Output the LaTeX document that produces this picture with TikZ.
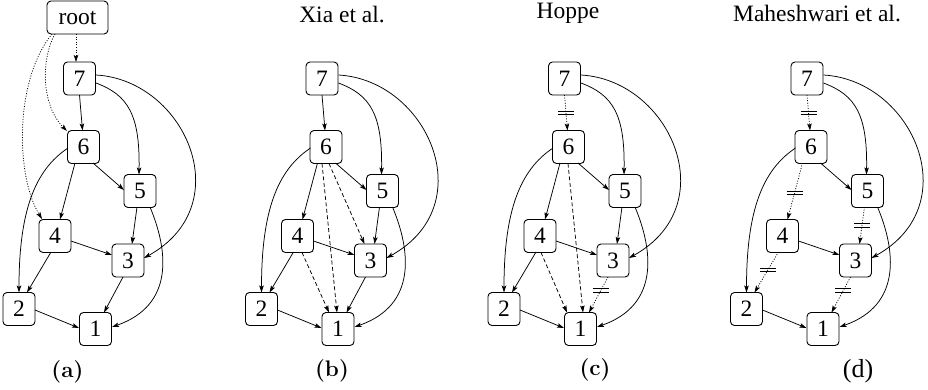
\documentclass[tikz,border=0pt]{standalone}
\usepackage{fontspec}
\setmainfont{Liberation Serif}
\newfontfamily\lmfont{Latin Modern Roman}
\usetikzlibrary{arrows.meta}
\newcommand\eqmk{\vbox{\hrule width 16pt height 0.8pt\vskip 2.8pt\hrule width 16pt height 0.8pt}}
\newcommand\mknodes[1]{%
  \node[nd] (#17) at (79.5,78.5) {7};
  \node[nd] (#16) at (83.5,147) {6};
  \node[nd] (#15) at (140,191) {5};
  \node[nd] (#14) at (55,236) {4};
  \node[nd] (#13) at (128,260.5) {3};
  \node[nd] (#12) at (19,309) {2};
  \node[nd] (#11) at (95.5,329) {1};
}
\newcommand\mkcommon[1]{%
  \draw[ed] ([shift={(16.5,-3.5)}]#17.center) .. controls +(89,5) and +(96,-53) .. ([shift={(16,-2.5)}]#13.center);
  \draw[ed] ([shift={(16.5,4.5)}]#17.center) .. controls +(32,12) and +(1,-60) .. ([shift={(-1,-16.5)}]#15.center);
  \draw[ed] ([shift={(9.5,16)}]#16.center) -- ([shift={(-16,-1)}]#15.center);
  \draw[ed] ([shift={(-15.5,1)}]#16.center) .. controls +(-33,22) and +(0,-82) .. ([shift={(0,-16.5)}]#12.center);
  \draw[ed] ([shift={(10,16)}]#15.center) .. controls +(18,43) and +(63,-22) .. ([shift={(16.5,-2)}]#11.center);
  \draw[ed] ([shift={(16,5)}]#14.center) -- ([shift={(-16,-5.5)}]#13.center);
  \draw[ed] ([shift={(16,1)}]#12.center) -- ([shift={(-16.5,-1)}]#11.center);
}
\begin{document}
\begin{tikzpicture}[x=1pt,y=-1pt,
  nd/.style={draw, rounded corners=4pt, line width=0.9pt, minimum width=32pt, minimum height=33pt, inner sep=0pt, font=\fontsize{23.5}{28}\selectfont},
  ed/.style={line width=0.75pt, -{Stealth[length=7pt,width=4.5pt,inset=1.5pt]}},
  dt/.style={ed, dash pattern=on 1pt off 1.6pt},
  ds/.style={ed, dash pattern=on 4pt off 2.5pt},
  ttl/.style={anchor=base, inner sep=0pt, font=\fontsize{23.5}{28}\selectfont},
  lab/.style={anchor=base, inner sep=0pt, font=\lmfont\bfseries\fontsize{22.5}{27}\selectfont}]
\useasboundingbox (0,0) rectangle (928,389);

% ---------- (a)
\node[nd, minimum width=61pt] (root) at (77.5,17.5) {root};
\mknodes{a}
\mkcommon{a}
\draw[dt] ([shift={(-1.5,16.5)}]root.center) -- ([shift={(-3.5,-16.5)}]a7.center);
\draw[dt] ([shift={(-22.5,16.5)}]root.center) .. controls +(-14,25) and +(-26,-26) .. ([shift={(-16.5,-16)}]a6.center);
\draw[dt] ([shift={(-25.5,16.5)}]root.center) .. controls +(-37,45) and +(-27,-44) .. ([shift={(-13,-17)}]a4.center);
\draw[ed] ([shift={(0,16.5)}]a7.center) -- ([shift={(-1,-16.5)}]a6.center);
\draw[ed] ([shift={(-8.5,16)}]a6.center) -- ([shift={(5,-16.5)}]a4.center);
\draw[ed] ([shift={(-3,16)}]a5.center) -- ([shift={(4,-16.5)}]a3.center);
\draw[ed] ([shift={(-4,16)}]a4.center) -- ([shift={(8,-16.5)}]a2.center);
\draw[ed] ([shift={(-5,16.5)}]a3.center) -- ([shift={(8.5,-16.5)}]a1.center);
\node[lab] (la) at (67.5,377.5) {(a)};

% ---------- (b)
\begin{scope}[xshift=242.5pt]
\mknodes{b}
\mkcommon{b}
\draw[ed] ([shift={(0,16.5)}]b7.center) -- ([shift={(-1,-16.5)}]b6.center);
\draw[ed] ([shift={(-8.5,16)}]b6.center) -- ([shift={(5,-16.5)}]b4.center);
\draw[ed] ([shift={(-3,16)}]b5.center) -- ([shift={(4,-16.5)}]b3.center);
\draw[ed] ([shift={(-4,16)}]b4.center) -- ([shift={(8,-16.5)}]b2.center);
\draw[ed] ([shift={(-5,16.5)}]b3.center) -- ([shift={(8.5,-16.5)}]b1.center);
\draw[ds] ([shift={(-4,16.5)}]b6.center) -- ([shift={(-1,-16.5)}]b1.center);
\draw[ds] ([shift={(3,16.5)}]b6.center) -- ([shift={(-6,-16.5)}]b3.center);
\draw[ds] ([shift={(4.5,16.5)}]b4.center) -- ([shift={(-9,-16.5)}]b1.center);
\end{scope}
\node[ttl] (tb) at (342,22.5) {Xia et al.};
\node[lab] (lb) at (332,376.5) {(b)};

% ---------- (c)
\begin{scope}[xshift=485pt]
\mknodes{c}
\mkcommon{c}
\draw[dt] ([shift={(0,16.5)}]c7.center) -- node[pos=0.5]{\eqmk} ([shift={(-1,-16.5)}]c6.center);
\draw[ed] ([shift={(-8.5,16)}]c6.center) -- ([shift={(5,-16.5)}]c4.center);
\draw[ed] ([shift={(-3,16)}]c5.center) -- ([shift={(4,-16.5)}]c3.center);
\draw[ed] ([shift={(-4,16)}]c4.center) -- ([shift={(8,-16.5)}]c2.center);
\draw[dt] ([shift={(-5,16.5)}]c3.center) -- node[pos=0.37]{\eqmk} ([shift={(8.5,-16.5)}]c1.center);
\draw[ds] ([shift={(-0.5,16.5)}]c6.center) -- ([shift={(2.5,-16.5)}]c1.center);
\draw[ds] ([shift={(1,16.5)}]c4.center) -- ([shift={(-13.5,-16.5)}]c1.center);
\end{scope}
\node[ttl] (tc) at (568,18.5) {Hoppe};
\node[lab] (lc) at (595,375.5) {(c)};

% ---------- (d)
\begin{scope}[xshift=727.5pt]
\mknodes{d}
\mkcommon{d}
\draw[dt] ([shift={(0,16.5)}]d7.center) -- node[pos=0.5]{\eqmk} ([shift={(-1,-16.5)}]d6.center);
\draw[dt] ([shift={(-8.5,16)}]d6.center) -- node[pos=0.53]{\eqmk} ([shift={(5,-16.5)}]d4.center);
\draw[dt] ([shift={(-3,16)}]d5.center) -- node[pos=0.49]{\eqmk} ([shift={(4,-16.5)}]d3.center);
\draw[dt] ([shift={(-4,16)}]d4.center) -- node[pos=0.44]{\eqmk} ([shift={(8,-16.5)}]d2.center);
\draw[dt] ([shift={(-5,16.5)}]d3.center) -- node[pos=0.37]{\eqmk} ([shift={(8.5,-16.5)}]d1.center);
\end{scope}
\node[ttl] (td) at (817,21) {Maheshwari et al.};
\node[ttl, font=\fontsize{26}{30}\selectfont] (ld) at (858,377) {(d)};
\end{tikzpicture}
\end{document}
